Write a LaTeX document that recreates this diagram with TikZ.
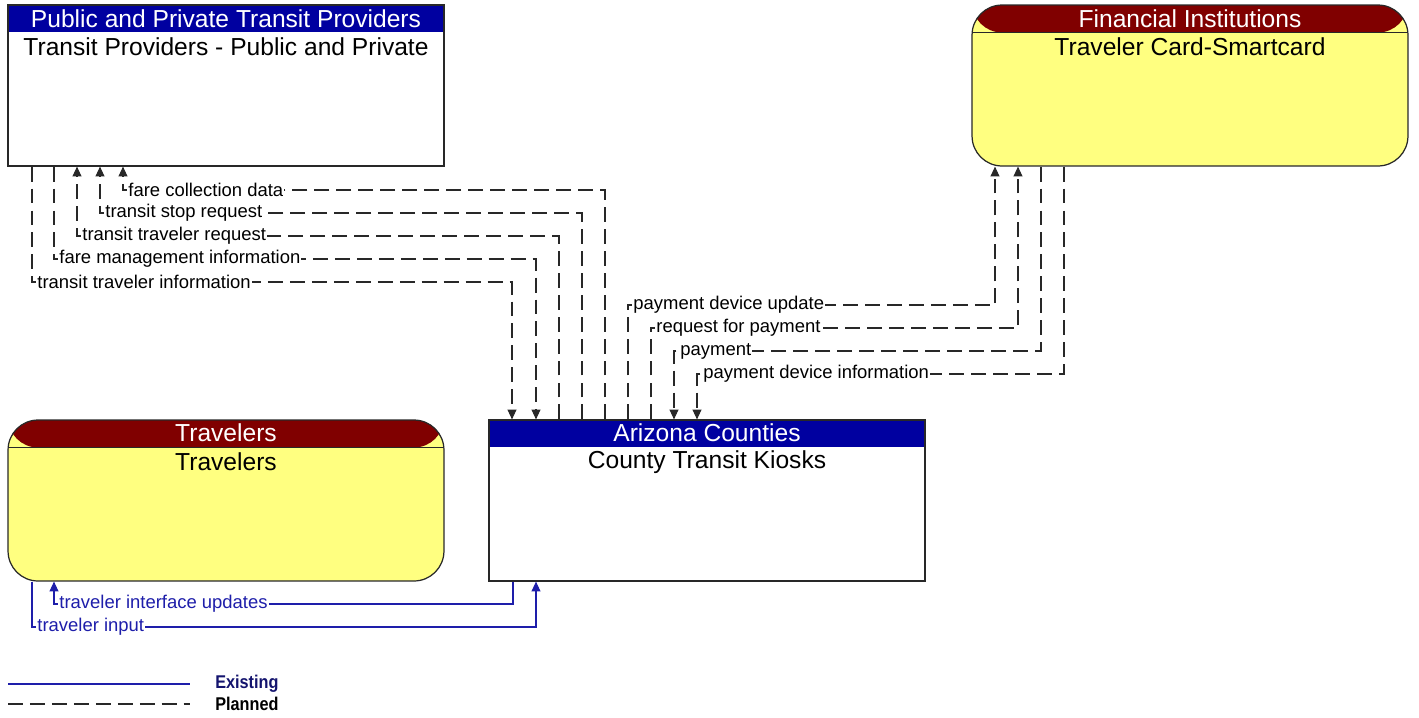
\documentclass[tikz,border=0pt]{standalone}
\usepackage{fontspec}
\setmainfont{Liberation Sans}
\usetikzlibrary{arrows.meta,calc}
\definecolor{hdrblue}{RGB}{0,0,160}
\definecolor{hdrred}{RGB}{128,0,0}
\definecolor{boxyellow}{RGB}{255,255,128}
\definecolor{exblue}{RGB}{30,30,170}
\definecolor{legblue}{RGB}{20,20,110}
\definecolor{lineg}{RGB}{40,40,40}
\begin{document}
\begin{tikzpicture}[x=0.02cm,y=-0.02cm,
  sysbox/.style={draw=lineg, line width=0.7pt, minimum width=8.72cm, minimum height=3.22cm, inner sep=0pt},
  squarebox/.style={sysbox, fill=white, path picture={\fill[hdrblue] (path picture bounding box.north west) rectangle ([yshift=-0.54cm]path picture bounding box.north east);}},
  roundbox/.style={sysbox, rounded corners=0.6cm, fill=boxyellow, path picture={\fill[hdrred] (path picture bounding box.north west) rectangle ([yshift=-0.55cm]path picture bounding box.north east); \draw[lineg, line width=0.7pt] ([yshift=-0.55cm]path picture bounding box.north west) -- ([yshift=-0.55cm]path picture bounding box.north east);}},
  hdr/.style={text=white, font=\fontsize{14}{16}\selectfont, inner sep=0pt},
  ttl/.style={text=black, font=\fontsize{14}{16}\selectfont, inner sep=0pt},
  planned/.style={draw=lineg, line width=0.6pt, dash pattern=on 8.5pt off 4pt},
  existing/.style={draw=exblue, line width=0.6pt},
  tip/.style={-{Triangle[width=5pt,length=5.5pt]}},
  lbl/.style={fill=white, inner sep=0.6pt, anchor=west, font=\fontsize{10.5}{12}\selectfont},
  exlbl/.style={lbl, text=exblue},
  legtxt/.style={anchor=west, inner sep=0pt, font=\bfseries\fontsize{10.5}{12}\selectfont}
]
\useasboundingbox (0,0) rectangle (1419,717);

% boxes
\node[squarebox] (tp) at (226,85.5) {};
\node[hdr] (tph) at (226,19) {Public and Private Transit Providers};
\node[ttl] (tpt) at (226,47) {Transit Providers - Public and Private};

\node[roundbox] (fi) at (1190,85.5) {};
\node[hdr] (fih) at (1190,19) {Financial Institutions};
\node[ttl] (fit) at (1190,47) {Traveler Card-Smartcard};

\node[roundbox] (tr) at (226,500.5) {};
\node[hdr] (trh) at (226,433) {Travelers};
\node[ttl] (trt) at (226,462) {Travelers};

\node[squarebox] (ak) at (707,500.5) {};
\node[hdr] (akh) at (707,433) {Arizona Counties};
\node[ttl] (akt) at (707,462) {County Transit Kiosks};

% Transit providers <-> kiosk
\draw[planned,tip] (32,0 |- tp.south) -- (32,282) -- (512,282) -- (512,0 |- ak.north);
\node[lbl] (l1) at (36,282) {transit traveler information};
\draw[planned,tip] (54,0 |- tp.south) -- (54,259) -- (536,259) -- (536,0 |- ak.north);
\node[lbl] (l2) at (58,259) {fare management information};
\draw[planned,tip] (559,0 |- ak.north) -- (559,236) -- (77,236) -- (77,0 |- tp.south);
\node[lbl] (l3) at (81,236) {transit traveler request};
\draw[planned,tip] (582,0 |- ak.north) -- (582,213) -- (100,213) -- (100,0 |- tp.south);
\node[lbl] (l4) at (104,213) {transit stop request};
\draw[planned,tip] (605,0 |- ak.north) -- (605,190) -- (123,190) -- (123,0 |- tp.south);
\node[lbl] (l5) at (127,190) {fare collection data};

% Financial <-> kiosk
\draw[planned,tip] (628,0 |- ak.north) -- (628,305) -- (995,305) -- (995,0 |- fi.south);
\node[lbl] (l6) at (632,305) {payment device update};
\draw[planned,tip] (651,0 |- ak.north) -- (651,328) -- (1018,328) -- (1018,0 |- fi.south);
\node[lbl] (l7) at (655,328) {request for payment};
\draw[planned,tip] (1041,0 |- fi.south) -- (1041,351) -- (674,351) -- (674,0 |- ak.north);
\node[lbl] (l8) at (679,351) {payment};
\draw[planned,tip] (1064,0 |- fi.south) -- (1064,374) -- (697,374) -- (697,0 |- ak.north);
\node[lbl] (l9) at (702,374) {payment device information};

% Travelers <-> kiosk
\draw[existing,tip] (513,0 |- ak.south) -- (513,604) -- (54,604) -- (54,0 |- tr.south);
\node[exlbl] (l10) at (58,604) {traveler interface updates};
\draw[existing,tip] (32,0 |- tr.south) -- (32,627) -- (536,627) -- (536,0 |- ak.south);
\node[exlbl] (l11) at (36,627) {traveler input};

% legend
\coordinate (lea) at (8,684);
\coordinate (leb) at (190,684);
\coordinate (lpa) at (8,704);
\coordinate (lpb) at (190,704);
\draw[existing] (lea) -- (leb);
\draw[planned] (lpa) -- (lpb);
\node[legtxt, text=legblue] (lge) at (215,684) {\scalebox{0.88}[1]{Existing}};
\node[legtxt, text=black] (lgp) at (215,704) {\scalebox{0.88}[1]{Planned}};
\end{tikzpicture}
\end{document}
